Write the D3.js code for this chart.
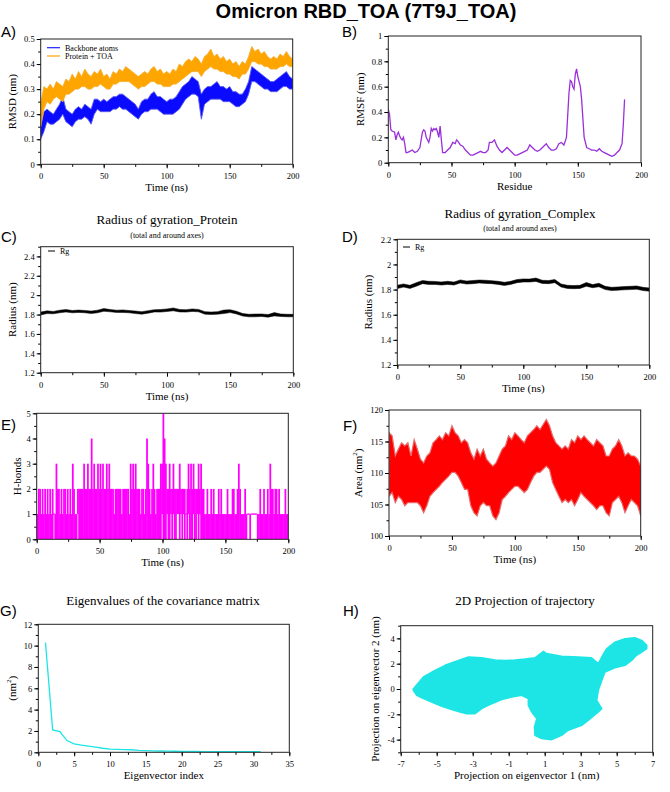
<!DOCTYPE html>
<html>
<head>
<meta charset="utf-8">
<script src="https://cdn.jsdelivr.net/npm/d3@7"></script>
<style>
  body { margin: 0; background: #fff; }
  svg { display: block; }
</style>
</head>
<body>
<script>
// ---- data ----
const timeTicks = [0, 50, 100, 150, 200];

// A) RMSD, band of the noisy trace every 2.5 ns
const tA = d3.range(0, 200.01, 2.5);
const backboneHi = [
  0.15,0.21,0.22,0.21,0.20,0.22,0.24,0.27,0.22,0.21,
  0.20,0.22,0.23,0.22,0.24,0.23,0.22,0.26,0.26,0.25,
  0.26,0.25,0.26,0.27,0.27,0.28,0.28,0.27,0.26,0.25,
  0.24,0.22,0.25,0.26,0.26,0.28,0.29,0.27,0.27,0.26,
  0.25,0.26,0.26,0.27,0.29,0.31,0.32,0.33,0.35,0.34,
  0.33,0.28,0.30,0.31,0.31,0.32,0.33,0.31,0.31,0.30,
  0.31,0.29,0.29,0.28,0.28,0.30,0.33,0.39,0.38,0.37,
  0.36,0.35,0.34,0.33,0.33,0.34,0.35,0.36,0.37,0.35,
  0.34];
const backboneLo = [
  0.10,0.13,0.17,0.16,0.16,0.17,0.18,0.20,0.17,0.16,
  0.15,0.17,0.18,0.18,0.19,0.18,0.16,0.20,0.22,0.21,
  0.21,0.21,0.21,0.22,0.22,0.23,0.22,0.22,0.21,0.20,
  0.19,0.18,0.20,0.21,0.21,0.22,0.22,0.22,0.21,0.20,
  0.20,0.20,0.20,0.21,0.22,0.24,0.26,0.27,0.28,0.28,
  0.27,0.18,0.24,0.25,0.26,0.26,0.26,0.26,0.25,0.25,
  0.25,0.24,0.23,0.23,0.24,0.25,0.28,0.33,0.33,0.32,
  0.31,0.30,0.30,0.29,0.29,0.29,0.30,0.31,0.31,0.30,
  0.30];
const complexHi = [
  0.24,0.31,0.30,0.32,0.30,0.33,0.32,0.31,0.34,0.33,
  0.36,0.34,0.37,0.35,0.38,0.36,0.35,0.37,0.36,0.38,
  0.35,0.36,0.34,0.37,0.36,0.38,0.37,0.39,0.38,0.37,
  0.36,0.35,0.36,0.37,0.36,0.38,0.39,0.37,0.38,0.36,
  0.37,0.36,0.38,0.37,0.40,0.39,0.41,0.42,0.41,0.43,
  0.42,0.40,0.43,0.44,0.46,0.43,0.44,0.42,0.43,0.41,
  0.42,0.40,0.41,0.39,0.41,0.40,0.43,0.47,0.45,0.46,
  0.44,0.45,0.43,0.42,0.43,0.42,0.44,0.43,0.45,0.43,
  0.42];
const complexLo = [
  0.15,0.22,0.25,0.24,0.26,0.27,0.26,0.25,0.28,0.28,
  0.29,0.30,0.30,0.31,0.31,0.30,0.30,0.31,0.31,0.32,
  0.31,0.30,0.30,0.32,0.32,0.33,0.33,0.33,0.33,0.32,
  0.31,0.30,0.31,0.31,0.32,0.33,0.33,0.32,0.32,0.31,
  0.31,0.31,0.32,0.32,0.33,0.34,0.35,0.36,0.37,0.37,
  0.37,0.35,0.37,0.38,0.39,0.38,0.38,0.37,0.37,0.36,
  0.36,0.35,0.35,0.34,0.36,0.36,0.38,0.41,0.41,0.40,
  0.40,0.39,0.39,0.38,0.38,0.38,0.39,0.39,0.40,0.39,
  0.39];
const rmsdTicks = [0, 0.1, 0.2, 0.3, 0.4, 0.5];

// B) RMSF per residue
const rmsfRes = [0,1,2,3,5,6,7,8,9,10,11,12,13,14,15,17,19,21,23,25,
  27,28,29,30,32,33,34,35,36,37,38,39,40,41,42,43,45,47,49,51,
  53,54,55,57,59,61,63,65,67,69,71,73,75,77,79,80,82,84,86,88,
  90,92,94,96,98,100,102,104,106,108,110,112,114,116,118,120,122,125,127,129,
  131,133,135,137,139,141,143,144,145,146,147,148,149,150,152,153,155,157,159,161,
  163,165,167,169,171,173,175,177,179,181,183,185,186,187];
const rmsfVal = [0.42,0.38,0.26,0.25,0.24,0.18,0.22,0.24,0.21,0.19,0.18,0.2,0.15,0.08,0.08,0.09,0.1,0.08,0.09,0.12,
  0.24,0.26,0.25,0.2,0.16,0.2,0.27,0.25,0.27,0.26,0.27,0.24,0.2,0.29,0.18,0.08,0.08,0.1,0.12,0.16,
  0.15,0.18,0.17,0.14,0.13,0.1,0.08,0.06,0.06,0.07,0.08,0.09,0.08,0.08,0.1,0.16,0.16,0.18,0.13,0.1,
  0.08,0.1,0.12,0.1,0.08,0.06,0.06,0.07,0.08,0.09,0.1,0.14,0.12,0.1,0.09,0.1,0.12,0.15,0.12,0.1,
  0.1,0.11,0.15,0.16,0.14,0.2,0.55,0.65,0.64,0.6,0.58,0.7,0.74,0.68,0.6,0.5,0.2,0.12,0.11,0.1,
  0.1,0.09,0.11,0.09,0.08,0.07,0.06,0.05,0.06,0.08,0.1,0.15,0.3,0.5];
const rmsfTicks = [0, 0.2, 0.4, 0.6, 0.8, 1];

// C) and D) radius of gyration, band every 5 ns
const tRg = d3.range(0, 200.01, 5);
const rgProtHi = [1.825,1.838,1.832,1.845,1.852,1.842,1.846,1.842,1.836,1.845,1.862,1.852,1.845,1.848,1.842,1.836,1.83,1.84,1.85,1.852,
  1.858,1.868,1.853,1.85,1.858,1.853,1.83,1.826,1.83,1.846,1.85,1.834,1.81,1.803,1.805,1.806,1.8,1.82,1.806,1.803,1.802];
const rgProtLo = [1.795,1.81,1.808,1.818,1.826,1.818,1.822,1.818,1.81,1.818,1.834,1.828,1.822,1.822,1.818,1.81,1.804,1.814,1.826,1.825,
  1.832,1.838,1.827,1.825,1.832,1.828,1.804,1.8,1.804,1.81,1.82,1.806,1.784,1.776,1.777,1.78,1.773,1.786,1.78,1.777,1.776];
const rgCompHi = [1.835,1.845,1.834,1.855,1.872,1.866,1.865,1.861,1.866,1.86,1.877,1.868,1.872,1.876,1.874,1.871,1.866,1.858,1.866,1.88,
  1.885,1.884,1.892,1.874,1.872,1.88,1.845,1.834,1.832,1.834,1.856,1.84,1.85,1.826,1.818,1.821,1.824,1.826,1.829,1.818,1.813];
const rgCompLo = [1.808,1.82,1.809,1.826,1.847,1.841,1.841,1.836,1.841,1.836,1.852,1.844,1.847,1.852,1.849,1.847,1.841,1.833,1.841,1.855,
  1.86,1.86,1.865,1.849,1.847,1.855,1.82,1.809,1.807,1.809,1.826,1.815,1.822,1.8,1.792,1.795,1.798,1.8,1.803,1.792,1.787];
const rgTicksC = [1.2, 1.4, 1.6, 1.8, 2, 2.2, 2.4];
const rgTicksD = [1.2, 1.4, 1.6, 1.8, 2, 2.2];

// E) H-bonds, lowest and highest count in each 1 ns bin
const hbMax =
  "1221212121" + "2121132212" + "1221212132" + "1122222322" + "3224232232" +
  "3232232322" + "2122222122" + "2221323232" + "2212212432" + "1232122233" +
  "5432232232" + "2223222212" + "3232322232" + "3221121121" + "2111212111" +
  "1211122112" + "3211121111" + "1111111211" + "2112132212" + "2121111211";
const hbMin =
  "0000000000" + "0001000000" + "0000000000" + "0010000000" + "0000000000" +
  "0000000000" + "0000000000" + "0000000000" + "0000000000" + "0000000001" +
  "0001001010" + "0110101010" + "1000100101" + "0000000000" + "0000000000" +
  "0000000000" + "0000000110" + "1111100000" + "0000000000" + "0000000000";
const hbTicks = [0, 1, 2, 3, 4, 5];

// F) SASA band every 2.5 ns
const areaHi = [
  116.4,115.9,112.7,113.8,114.8,114.3,114.8,112.7,115.3,113.8,
  112.2,111.6,112.7,113.2,114.8,115.3,115.9,115.3,116.4,115.9,
  117.5,116.4,115.9,114.8,115.3,114.8,113.2,112.2,113.8,112.7,
  113.8,112.2,111.6,111.1,111.6,112.7,113.8,114.3,115.9,115.3,
  116.4,115.9,115.3,114.8,115.9,116.4,116.9,117.5,116.9,117.7,
  118.5,117.5,115.9,114.8,114.3,113.8,114.3,113.8,115.3,114.8,
  115.9,115.3,115.9,115.3,114.8,114.3,115.3,114.8,114.3,112.7,
  112.7,113.8,114.3,115.3,114.3,112.7,113.2,112.7,112.7,112.2,
  111.1];
const areaLo = [
  106.3,106.9,105.3,106.3,105.8,104.8,105.3,105.3,105.3,105.3,
  104.8,103.7,104.8,106.3,106.9,107.4,107.9,108.5,109.0,109.5,
  110.1,110.1,109.5,108.5,107.4,107.4,104.8,103.7,103.2,104.8,
  105.3,104.8,104.8,103.2,102.6,103.7,105.8,106.3,106.9,107.4,
  107.9,107.9,107.4,106.9,107.4,108.5,109.5,110.1,110.1,110.6,
  111.1,110.6,108.5,107.4,106.3,105.3,105.8,105.3,105.8,104.8,
  105.8,106.9,106.3,105.8,105.3,104.8,104.2,104.8,104.8,103.7,
  103.2,105.3,105.8,106.3,105.3,103.7,104.8,105.8,105.3,104.8,
  103.2];
const areaTicks = [100, 105, 110, 115, 120];

// G) eigenvalues
const eigIndex = d3.range(1, 32);
const eigVal = [10.3,2.1,1.95,1.1,0.8,0.68,0.58,0.48,0.38,0.3,0.28,0.26,0.24,0.18,0.15,0.13,
  0.12,0.11,0.1,0.09,0.08,0.08,0.07,0.07,0.06,0.06,0.06,0.05,0.05,0.05,0.05];
const eigTicksX = [0, 5, 10, 15, 20, 25, 30, 35];
const eigTicksY = [0, 2, 4, 6, 8, 10, 12];

// H) outline of the projected trajectory cloud
const projX = [-6.3,-5.74,-5.1,-4.54,-3.8,-3.24,-2.5,-1.76,-1.2,-0.65,-0.09,0.46,0.93,1.1,1.94,2.87,3.6,3.98,4.17,4.44,
  4.9,5.46,6.0,6.39,6.67,6.67,6.39,6.1,5.83,5.46,4.9,4.35,4.17,3.98,3.89,4.17,3.98,3.43,3.06,2.31,
  1.94,1.39,0.83,0.46,0.43,0.56,0.28,0.09,0.09,-0.28,-0.83,-1.39,-1.94,-2.5,-2.87,-3.33,-3.7,-4.17,-4.72,-5.28,
  -5.74,-6.11,-6.3];
const projY = [0,0.95,1.47,1.87,2.26,2.53,2.47,2.3,2.26,2.3,2.37,2.47,2.97,2.8,2.58,2.53,2.47,2.0,2.53,3.18,
  3.7,3.97,4.05,3.84,3.45,3.18,2.92,2.66,2.26,1.87,1.68,1.34,0.68,-0.1,-0.9,-1.55,-1.82,-2.47,-2.87,-3.26,
  -3.66,-4.0,-3.92,-3.66,-3.0,-2.34,-1.82,-1.29,-0.76,-0.5,-0.63,-0.84,-1.16,-1.55,-1.95,-1.95,-1.82,-1.63,-1.37,-1.03,
  -0.76,-0.5,-0.1];
const projTicksX = [-7, -5, -3, -1, 1, 3, 5, 7];
const projTicksY = [-4, -2, 0, 2, 4];

// ---- drawing ----
const serif = "'Liberation Serif','Times New Roman',serif";
const sans = "'Liberation Sans',Arial,sans-serif";

const svg = d3.select("body").append("svg")
    .attr("width", 670)
    .attr("height", 792)
    .attr("viewBox", [0, 0, 670, 792]);

svg.append("text")
    .attr("x", 366).attr("y", 17.5)
    .attr("text-anchor", "middle")
    .attr("font-family", sans).attr("font-weight", "bold").attr("font-size", 20)
    .text("Omicron RBD_TOA (7T9J_TOA)");

function label(text, x, y)
{
    svg.append("text").attr("x", x).attr("y", y)
        .attr("font-family", sans).attr("font-size", 15)
        .text(text);
}

function titles(title, sub, cx, y1, y2)
{
    svg.append("text").attr("x", cx).attr("y", y1).attr("text-anchor", "middle")
        .attr("font-family", serif).attr("font-size", 13).text(title);
    if (sub)
        svg.append("text").attr("x", cx).attr("y", y2).attr("text-anchor", "middle")
            .attr("font-family", serif).attr("font-size", 8).text(sub);
}

function panel(p)
{
    const x = d3.scaleLinear(p.xDomain, [p.left, p.right]);
    const y = d3.scaleLinear(p.yDomain, [p.bottom, p.top]);

    svg.append("clipPath").attr("id", "clip-" + p.id)
        .append("rect")
        .attr("x", p.left).attr("y", p.top)
        .attr("width", p.right - p.left).attr("height", p.bottom - p.top);
    const plot = svg.append("g").attr("clip-path", `url(#clip-${p.id})`);

    const fmt = d => String(d);
    const style = g => {
        g.attr("font-family", serif).attr("font-size", 8.5);
        g.select(".domain").remove();
    };

    svg.append("g").attr("transform", `translate(0,${p.bottom})`)
        .call(d3.axisBottom(x).tickValues(p.xMinor).tickSize(2.5).tickFormat(""))
        .call(style);
    svg.append("g").attr("transform", `translate(0,${p.bottom})`)
        .call(d3.axisBottom(x).tickValues(p.xTicks).tickSize(4).tickPadding(5).tickFormat(fmt))
        .call(style);
    svg.append("g").attr("transform", `translate(${p.left},0)`)
        .call(d3.axisLeft(y).tickValues(p.yMinor).tickSize(2.5).tickFormat(""))
        .call(style);
    svg.append("g").attr("transform", `translate(${p.left},0)`)
        .call(d3.axisLeft(y).tickValues(p.yTicks).tickSize(4).tickPadding(2).tickFormat(fmt))
        .call(style);

    svg.append("rect")
        .attr("x", p.left).attr("y", p.top)
        .attr("width", p.right - p.left).attr("height", p.bottom - p.top)
        .attr("fill", "none").attr("stroke", "#222").attr("stroke-width", 1);

    svg.append("text")
        .attr("x", (p.left + p.right) / 2).attr("y", p.bottom + 23).attr("dy", "0.35em")
        .attr("text-anchor", "middle")
        .attr("font-family", serif).attr("font-size", 11)
        .text(p.xLabel);

    // y label, second element of the array (if any) is a superscript
    const yl = svg.append("text")
        .attr("transform", `translate(${p.yLabelX},${(p.top + p.bottom) / 2}) rotate(-90)`)
        .attr("dy", "0.35em")
        .attr("text-anchor", "middle")
        .attr("font-family", serif).attr("font-size", 11);
    yl.append("tspan").text(p.yLabel[0]);
    if (p.yLabel.length > 1) {
        yl.append("tspan").attr("font-size", 7).attr("dy", -5).text(p.yLabel[1]);
        yl.append("tspan").attr("dy", 5).text(p.yLabel[2]);
    }

    return { x, y, plot };
}

function band(pnl, t, lo, hi, color, edge, edgeWidth)
{
    const area = d3.area()
        .x((d, i) => pnl.x(t[i]))
        .y0((d, i) => pnl.y(lo[i]))
        .y1((d, i) => pnl.y(hi[i]));
    pnl.plot.append("path")
        .attr("d", area(t))
        .attr("fill", color)
        .attr("stroke", edge)
        .attr("stroke-width", edgeWidth);
}

// A) RMSD
label("A)", 1, 37);
const pA = panel({
    id: "a", left: 40.7, right: 292.7, top: 39, bottom: 164.3,
    xDomain: [0, 200], yDomain: [0, 0.5],
    xTicks: timeTicks, xMinor: d3.range(0, 201, 25),
    yTicks: rmsdTicks, yMinor: d3.range(0, 0.51, 0.05),
    xLabel: "Time (ns)", yLabel: ["RMSD (nm)"], yLabelX: 12
});
band(pA, tA, backboneLo, backboneHi, "#0a0aff", "#5a5af0", 0.9);
band(pA, tA, complexLo, complexHi, "#ffa500", "#f5b030", 0.9);
[["Backbone atoms", "#2020ff", 47.7], ["Protein + TOA", "#ffa500", 56]].forEach(([name, color, ly]) => {
    svg.append("line").attr("x1", 47).attr("x2", 60).attr("y1", ly).attr("y2", ly)
        .attr("stroke", color).attr("stroke-width", 1.2);
    svg.append("text").attr("x", 65).attr("y", ly).attr("dy", "0.35em")
        .attr("font-family", serif).attr("font-size", 8).text(name);
});

// B) RMSF
label("B)", 342, 37);
const pB = panel({
    id: "b", left: 388.3, right: 641, top: 36, bottom: 162.7,
    xDomain: [0, 200], yDomain: [0, 1],
    xTicks: timeTicks, xMinor: d3.range(0, 201, 25),
    yTicks: rmsfTicks, yMinor: d3.range(0, 1.01, 0.1),
    xLabel: "Residue", yLabel: ["RMSF (nm)"], yLabelX: 360
});
pB.plot.append("path")
    .attr("d", d3.line().x((d, i) => pB.x(rmsfRes[i])).y(d => pB.y(d))(rmsfVal))
    .attr("fill", "none").attr("stroke", "#9a2fdc").attr("stroke-width", 1.3);

// C) Rg protein
label("C)", 1, 242);
titles("Radius of gyration_Protein", "(total and around axes)", 167, 223.5, 237.5);
const pC = panel({
    id: "c", left: 40.7, right: 293.3, top: 246.7, bottom: 372.7,
    xDomain: [0, 200], yDomain: [1.2, 2.5],
    xTicks: timeTicks, xMinor: d3.range(0, 201, 25),
    yTicks: rgTicksC, yMinor: d3.range(1.2, 2.51, 0.1),
    xLabel: "Time (ns)", yLabel: ["Radius (nm)"], yLabelX: 12
});
band(pC, tRg, rgProtLo, rgProtHi, "#000", "#000", 0.5);
svg.append("line").attr("x1", 48).attr("x2", 55).attr("y1", 251).attr("y2", 251).attr("stroke", "#000");
svg.append("text").attr("x", 60).attr("y", 251).attr("dy", "0.35em")
    .attr("font-family", serif).attr("font-size", 8).text("Rg");

// D) Rg complex
label("D)", 342, 242);
titles("Radius of gyration_Complex", "(total and around axes)", 520, 217.5, 231);
const pD = panel({
    id: "d", left: 397.3, right: 649.3, top: 239.3, bottom: 365,
    xDomain: [0, 200], yDomain: [1.2, 2.2],
    xTicks: timeTicks, xMinor: d3.range(0, 201, 25),
    yTicks: rgTicksD, yMinor: d3.range(1.2, 2.21, 0.1),
    xLabel: "Time (ns)", yLabel: ["Radius (nm)"], yLabelX: 368
});
band(pD, tRg, rgCompLo, rgCompHi, "#000", "#000", 0.5);
svg.append("line").attr("x1", 403).attr("x2", 410).attr("y1", 247).attr("y2", 247).attr("stroke", "#000");
svg.append("text").attr("x", 415).attr("y", 247).attr("dy", "0.35em")
    .attr("font-family", serif).attr("font-size", 8).text("Rg");

// E) H-bonds
label("E)", 1, 430);
const pE = panel({
    id: "e", left: 36.7, right: 288.3, top: 413.3, bottom: 539.3,
    xDomain: [0, 200], yDomain: [0, 5],
    xTicks: timeTicks, xMinor: d3.range(0, 201, 25),
    yTicks: hbTicks, yMinor: d3.range(0, 5.01, 0.5),
    xLabel: "Time (ns)", yLabel: ["H-bonds"], yLabelX: 17
});
const hbHi = Array.from(hbMax, Number);
const hbLo = Array.from(hbMin, Number);
// bars overlap by a fraction of a pixel so neighbouring bins do not leave seams
pE.plot.selectAll("rect.hb")
    .data(hbHi)
    .join("rect")
    .attr("class", "hb")
    .attr("x", (d, i) => pE.x(i))
    .attr("width", (d, i) => pE.x(i + 1) - pE.x(i) + 0.5)
    .attr("y", (d, i) => d > hbLo[i] ? pE.y(d) : pE.y(d) - 0.6)
    .attr("height", (d, i) => d > hbLo[i] ? pE.y(hbLo[i]) - pE.y(d) : 1.2)
    .attr("fill", "#ff00ff");

// F) SASA
label("F)", 343, 431);
const pF = panel({
    id: "f", left: 389, right: 640.7, top: 410, bottom: 536,
    xDomain: [0, 200], yDomain: [100, 120],
    xTicks: timeTicks, xMinor: d3.range(0, 201, 25),
    yTicks: areaTicks, yMinor: d3.range(100, 120.1, 2.5),
    xLabel: "Time (ns)", yLabel: ["Area (nm", "2", ")"], yLabelX: 358
});
band(pF, tA, areaLo, areaHi, "#ff0000", "#e86a6a", 1.2);

// G) eigenvalues
label("G)", 0, 616);
titles("Eigenvalues of the covariance matrix", null, 163, 605);
const pG = panel({
    id: "g", left: 38.3, right: 289.3, top: 624.3, bottom: 752.3,
    xDomain: [0, 35], yDomain: [0, 12],
    xTicks: eigTicksX, xMinor: d3.range(0, 35.1, 2.5),
    yTicks: eigTicksY, yMinor: d3.range(0, 12.1, 1),
    xLabel: "Eigenvector index", yLabel: ["(nm", "2", ")"], yLabelX: 12
});
pG.plot.append("path")
    .attr("d", d3.line().x((d, i) => pG.x(eigIndex[i])).y(d => pG.y(d))(eigVal))
    .attr("fill", "none").attr("stroke", "#1de5e5").attr("stroke-width", 1.3);

// H) 2D projection
label("H)", 343, 616);
titles("2D Projection of trajectory", null, 525, 605);
const pH = panel({
    id: "h", left: 400.7, right: 652.7, top: 625.7, bottom: 752.3,
    xDomain: [-7, 7], yDomain: [-5, 5],
    xTicks: projTicksX, xMinor: d3.range(-7, 7.1, 1),
    yTicks: projTicksY, yMinor: d3.range(-5, 5.1, 1),
    xLabel: "Projection on eigenvector 1 (nm)", yLabel: ["Projection on eigenvector 2 (nm)"], yLabelX: 375
});
pH.plot.append("path")
    .attr("d", d3.line().x((d, i) => pH.x(projX[i])).y(d => pH.y(d)).curve(d3.curveLinearClosed)(projY))
    .attr("fill", "#1de5e5").attr("stroke", "#1de5e5").attr("stroke-width", 1.5)
    .attr("stroke-linejoin", "round");
</script>
</body>
</html>
